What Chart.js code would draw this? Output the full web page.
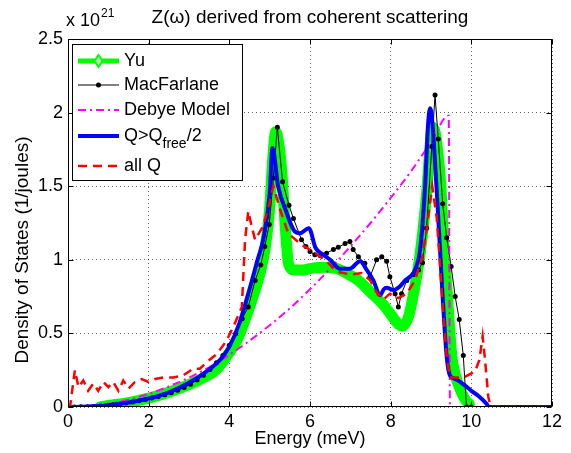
<!DOCTYPE html>
<html>
<head>
<meta charset="utf-8">
<script src="https://cdn.jsdelivr.net/npm/chart.js@4.4.0/dist/chart.umd.min.js"></script>
<style>
    html, body { margin: 0; padding: 0; background: #fff; }
</style>
</head>
<body>
<canvas id="dosChart" width="571" height="453"></canvas>
<script>

/***************** DATA (energy in meV, DOS in 1e21 /J) *****************/

const yuE = [0.8, 1.0, 1.5, 2.0, 2.5, 3.0, 3.5, 3.7, 4.0, 4.2, 4.4, 4.6, 4.8, 4.9, 5.0, 5.08, 5.15, 5.22, 5.3, 5.38,
    5.47, 5.6, 5.8, 6.0, 6.3, 6.6, 6.9, 7.2, 7.5, 7.8, 8.0, 8.2, 8.3, 8.45, 8.6, 8.7, 8.8, 8.9, 8.97, 9.03,
    9.1, 9.2, 9.25, 9.32, 9.4, 9.47, 9.52, 9.6, 9.74, 9.85, 9.95];
const yuV = [0.0, 0.01, 0.03, 0.06, 0.1, 0.153, 0.22, 0.26, 0.37, 0.46, 0.6, 0.76, 0.95, 1.1, 1.35, 1.7, 1.87, 1.8, 1.6, 1.25,
    0.97, 0.93, 0.93, 0.94, 0.95, 0.945, 0.91, 0.86, 0.78, 0.7, 0.63, 0.56, 0.55, 0.62, 0.82, 0.98, 1.2, 1.48, 1.75, 1.9,
    1.87, 1.65, 1.48, 1.1, 0.79, 0.5, 0.34, 0.22, 0.11, 0.05, 0.02];

const macE = [0, 0.16, 0.32, 0.48, 0.64, 0.8, 0.96, 1.12, 1.28, 1.44, 1.6, 1.76, 1.92, 2.08, 2.24, 2.4, 2.56, 2.72, 2.88, 3.04,
    3.2, 3.36, 3.52, 3.68, 3.84, 4.0, 4.16, 4.32, 4.47, 4.64, 4.78, 4.88, 4.99, 5.09, 5.19, 5.32, 5.48, 5.59, 5.79, 5.9,
    6.0, 6.12, 6.25, 6.41, 6.58, 6.7, 6.87, 6.99, 7.07, 7.2, 7.36, 7.49, 7.65, 7.78, 7.9, 7.98, 8.11, 8.19, 8.27, 8.4,
    8.56, 8.69, 8.79, 8.89, 9.02, 9.1, 9.18, 9.29, 9.39, 9.5, 9.6, 9.7, 9.8, 9.88, 10.0];
const macV = [0, 0, 0.001, 0.002, 0.004, 0.007, 0.011, 0.016, 0.021, 0.027, 0.034, 0.042, 0.051, 0.061, 0.072, 0.084, 0.097, 0.113, 0.132, 0.155,
    0.183, 0.215, 0.255, 0.3, 0.35, 0.42, 0.5, 0.6, 0.68, 0.86, 0.965, 1.09, 1.24, 1.556, 1.9, 1.53, 1.37, 1.28, 1.136, 1.09,
    1.056, 1.035, 1.03, 1.045, 1.07, 1.085, 1.11, 1.125, 1.07, 1.02, 0.977, 0.885, 1.0, 1.02, 0.99, 0.885, 0.77, 0.68, 0.77, 0.86,
    0.9, 0.93, 0.98, 1.215, 1.77, 2.12, 1.82, 1.38, 1.15, 0.955, 0.75, 0.595, 0.35, 0, 0];

const debyeE = [0, 0.5, 1, 1.5, 2, 2.5, 3, 3.5, 4, 4.5, 5, 5.5, 6, 6.5, 7, 7.5, 8, 8.5, 9, 9.44, 9.47, 12];
const debyeV = [0, 0.006, 0.022, 0.05, 0.089, 0.14, 0.2, 0.27, 0.355, 0.45, 0.555, 0.67, 0.8, 0.94, 1.09, 1.25, 1.42, 1.6, 1.8, 1.98, 0, 0];

const halfQE = [0, 0.5, 1, 1.5, 2, 2.5, 3, 3.5, 3.8, 4, 4.25, 4.5, 4.7, 4.85, 5, 5.07, 5.21, 5.42, 5.6, 5.75,
    5.97, 6.14, 6.3, 6.5, 6.74, 6.99, 7.24, 7.41, 7.57, 7.74, 7.83, 7.9, 8.07, 8.23, 8.36, 8.48, 8.6, 8.73, 8.85, 8.93,
    8.98, 9.14, 9.28, 9.39, 9.47, 9.6, 9.8, 10, 10.2, 10.35, 10.45, 12];
const halfQV = [0, 0.003, 0.012, 0.03, 0.058, 0.1, 0.165, 0.255, 0.33, 0.41, 0.57, 0.8, 1.0, 1.15, 1.45, 1.76, 1.5, 1.32, 1.2, 1.18,
    1.215, 1.08, 1.04, 1.0, 0.94, 0.94, 0.99, 0.93, 0.86, 0.76, 0.8, 0.81, 0.795, 0.82, 0.86, 0.885, 0.93, 1.07, 1.48, 1.93,
    2.03, 1.48, 0.79, 0.34, 0.215, 0.19, 0.155, 0.11, 0.07, 0.03, 0, 0];

const allQE = [0, 0.05, 0.17, 0.26, 0.38, 0.5, 0.63, 0.75, 0.88, 1.0, 1.12, 1.25, 1.37, 1.5, 1.66, 1.83, 1.99, 2.16, 2.36, 2.61,
    2.86, 3.1, 3.27, 3.44, 3.69, 3.93, 4.1, 4.31, 4.39, 4.47, 4.55, 4.64, 4.84, 4.97, 5.09, 5.26, 5.46, 5.75, 6.08, 6.41,
    6.66, 7.0, 7.28, 7.49, 7.65, 7.82, 7.98, 8.19, 8.4, 8.6, 8.77, 8.89, 9.03, 9.14, 9.22, 9.3, 9.39, 9.47, 9.8, 10.09,
    10.2, 10.28, 10.34, 10.42, 10.48, 12];
const allQV = [0, 0, 0.25, 0.135, 0.18, 0.11, 0.16, 0.11, 0.17, 0.135, 0.17, 0.11, 0.18, 0.125, 0.17, 0.19, 0.17, 0.19, 0.2, 0.2,
    0.215, 0.26, 0.26, 0.305, 0.36, 0.45, 0.545, 0.68, 1.135, 1.33, 1.23, 1.135, 1.23, 1.36, 1.5, 1.34, 1.18, 1.11, 1.055, 0.99,
    0.92, 0.9, 0.91, 0.86, 0.78, 0.73, 0.77, 0.74, 0.77, 0.86, 1.0, 1.2, 1.5, 1.29, 0.98, 0.66, 0.34, 0.2, 0.2, 0.24,
    0.32, 0.48, 0.32, 0.07, 0, 0];

const xTicks = [0, 2, 4, 6, 8, 10, 12];
const yTicks = [0, 0.5, 1, 1.5, 2, 2.5];


/***************** GENERIC SETTINGS *****************/

const fontFamily = "'Liberation Sans', Arial, Helvetica, sans-serif";
const black = '#000000';

function toPoints(xs, ys) {
    return xs.map((x, i) => ({ x: x, y: ys[i] }));
}

function axisFont(size) {
    return { family: fontFamily, size: size, weight: 'normal' };
}

// matlab style box, inward ticks, labels and legend
const matlabAxes = {
    id: 'matlabAxes',
    afterDatasetsDraw(chart) {
        const ctx = chart.ctx;
        const a = chart.chartArea;
        const sx = chart.scales.x;
        const sy = chart.scales.y;
        const L = Math.round(a.left) + 0.5, R = Math.round(a.right) - 0.5;
        const T = Math.round(a.top) + 0.5, B = Math.round(a.bottom) - 0.5;

        ctx.save();
        ctx.strokeStyle = black;
        ctx.lineWidth = 1;
        ctx.strokeRect(L, T, R - L, B - T);

        // inward ticks
        ctx.beginPath();
        xTicks.forEach(v => {
            const px = Math.round(sx.getPixelForValue(v)) + 0.5;
            ctx.moveTo(px, B); ctx.lineTo(px, B - 5);
            ctx.moveTo(px, T); ctx.lineTo(px, T + 5);
        });
        yTicks.forEach(v => {
            const py = Math.round(sy.getPixelForValue(v)) + 0.5;
            ctx.moveTo(L, py); ctx.lineTo(L + 5, py);
            ctx.moveTo(R, py); ctx.lineTo(R - 5, py);
        });
        ctx.stroke();

        // exponent label
        ctx.fillStyle = black;
        ctx.textBaseline = 'alphabetic';
        ctx.textAlign = 'left';
        ctx.font = '18px ' + fontFamily;
        ctx.fillText('x 10', 66, 26);
        const w = ctx.measureText('x 10').width;
        ctx.font = '12px ' + fontFamily;
        ctx.fillText('21', 66 + w + 1, 17);

        // y axis label (sits a bit below the axis middle in the original)
        ctx.save();
        ctx.translate(23, 250);
        ctx.rotate(-Math.PI / 2);
        ctx.textAlign = 'center';
        ctx.textBaseline = 'middle';
        ctx.font = '19px ' + fontFamily;
        ctx.fillText('Density of States (1/joules)', 0, 0);
        ctx.restore();

        drawLegend(chart);
        ctx.restore();
    }
};

function drawLegend(chart) {
    const ctx = chart.ctx;
    const ds = chart.data.datasets;
    const box = { x: 72.5, y: 44.5, w: 170, h: 136 };
    const rowY = [61, 85, 110, 136, 166];
    const x0 = 78, x1 = 119, tx = 124;

    ctx.fillStyle = '#ffffff';
    ctx.fillRect(box.x, box.y, box.w, box.h);
    ctx.strokeStyle = black;
    ctx.lineWidth = 1;
    ctx.strokeRect(box.x, box.y, box.w, box.h);

    // datasets are listed top-most first, legend shows them in plot order
    const legendOrder = [4, 3, 2, 1, 0];
    legendOrder.forEach((idx, row) => {
        const d = ds[idx];
        const y = rowY[row];
        ctx.save();
        ctx.strokeStyle = d.borderColor;
        ctx.lineWidth = d.legendWidth;
        ctx.setLineDash(d.borderDash || []);
        ctx.beginPath();
        ctx.moveTo(x0, y);
        ctx.lineTo(x1, y);
        ctx.stroke();
        ctx.setLineDash([]);
        const mx = (x0 + x1) / 2;
        if (d.legendMarker === 'diamond') {
            ctx.beginPath();
            ctx.moveTo(mx, y - 6); ctx.lineTo(mx + 4, y); ctx.lineTo(mx, y + 6); ctx.lineTo(mx - 4, y); ctx.closePath();
            ctx.fillStyle = '#b8ffb8';
            ctx.fill();
            ctx.lineWidth = 2;
            ctx.stroke();
        } else if (d.legendMarker === 'dot') {
            ctx.beginPath();
            ctx.arc(mx, y, 2.5, 0, Math.PI * 2);
            ctx.fillStyle = d.borderColor;
            ctx.fill();
        }
        ctx.restore();

        ctx.fillStyle = black;
        ctx.textBaseline = 'middle';
        ctx.textAlign = 'left';
        ctx.font = '18px ' + fontFamily;
        if (d.subLabel) {
            const parts = d.subLabel;
            ctx.fillText(parts[0], tx, y);
            let cx = tx + ctx.measureText(parts[0]).width;
            ctx.font = '14px ' + fontFamily;
            ctx.fillText(parts[1], cx, y + 8);
            cx += ctx.measureText(parts[1]).width;
            ctx.font = '18px ' + fontFamily;
            ctx.fillText(parts[2], cx, y);
        } else {
            ctx.fillText(d.label, tx, y);
        }
    });
}


/***************** DRAWING CHART *****************/

const data = {
    datasets: [{
        label: 'all Q',
        data: toPoints(allQE, allQV),
        borderColor: '#ff0000',
        borderWidth: 2.5,
        borderDash: [9, 6],
        legendWidth: 2.5,
        pointRadius: 0,
        tension: 0,
        order: 1
    }, {
        label: 'Q>Qfree/2',
        subLabel: ['Q>Q', 'free', '/2'],
        data: toPoints(halfQE, halfQV),
        borderColor: '#0000ff',
        borderWidth: 4,
        legendWidth: 4,
        pointRadius: 0,
        cubicInterpolationMode: 'monotone',
        order: 2
    }, {
        label: 'Debye Model',
        data: toPoints(debyeE, debyeV),
        borderColor: '#ff00ff',
        borderWidth: 2,
        borderDash: [8, 4, 2, 4],
        legendWidth: 2,
        pointRadius: 0,
        cubicInterpolationMode: 'monotone',
        order: 3
    }, {
        label: 'MacFarlane',
        data: toPoints(macE, macV),
        borderColor: '#000000',
        borderWidth: 1,
        legendWidth: 1,
        legendMarker: 'dot',
        pointRadius: 2.5,
        pointBorderWidth: 0,
        pointBackgroundColor: '#000000',
        tension: 0,
        order: 4
    }, {
        label: 'Yu',
        data: toPoints(yuE, yuV),
        borderColor: '#00ff00',
        borderWidth: 11,
        borderJoinStyle: 'round',
        borderCapStyle: 'round',
        legendWidth: 5,
        legendMarker: 'diamond',
        pointRadius: 0,
        cubicInterpolationMode: 'monotone',
        order: 5
    }]
};

const gridStyle = {
    color: 'rgba(0,0,0,0.6)',
    lineWidth: 1,
    drawTicks: false
};

const options = {
    responsive: false,
    animation: false,
    layout: { padding: { left: 0, right: 19, top: 0, bottom: 0 } },
    plugins: {
        legend: { display: false },
        tooltip: { enabled: false },
        title: {
            display: true,
            fullSize: false,
            text: 'Z(\u03c9) derived from coherent scattering',
            color: black,
            font: axisFont(19),
            padding: { top: 6, bottom: 10.2 }
        }
    },
    scales: {
        x: {
            type: 'linear',
            min: 0,
            max: 12,
            afterBuildTicks: s => { s.ticks = xTicks.map(v => ({ value: v })); },
            afterFit: s => { s.height = 46; },
            ticks: { color: black, font: axisFont(18), padding: 4, maxRotation: 0 },
            grid: gridStyle,
            border: { display: false, dash: [1, 3] },
            title: { display: true, text: 'Energy (meV)', color: black, font: axisFont(18), padding: { top: 0, bottom: 3 } }
        },
        y: {
            type: 'linear',
            min: 0,
            max: 2.5,
            afterBuildTicks: s => { s.ticks = yTicks.map(v => ({ value: v })); },
            afterFit: s => { s.width = 68; },
            ticks: { color: black, font: axisFont(18), padding: 5, callback: v => String(v) },
            grid: gridStyle,
            border: { display: false, dash: [1, 3] },
            title: { display: false }
        }
    }
};

const ctx = document.getElementById('dosChart').getContext('2d');
const dosChart = new Chart(ctx, {
    type: 'line',
    data: data,
    options: options,
    plugins: [matlabAxes]
});

</script>
</body>
</html>
